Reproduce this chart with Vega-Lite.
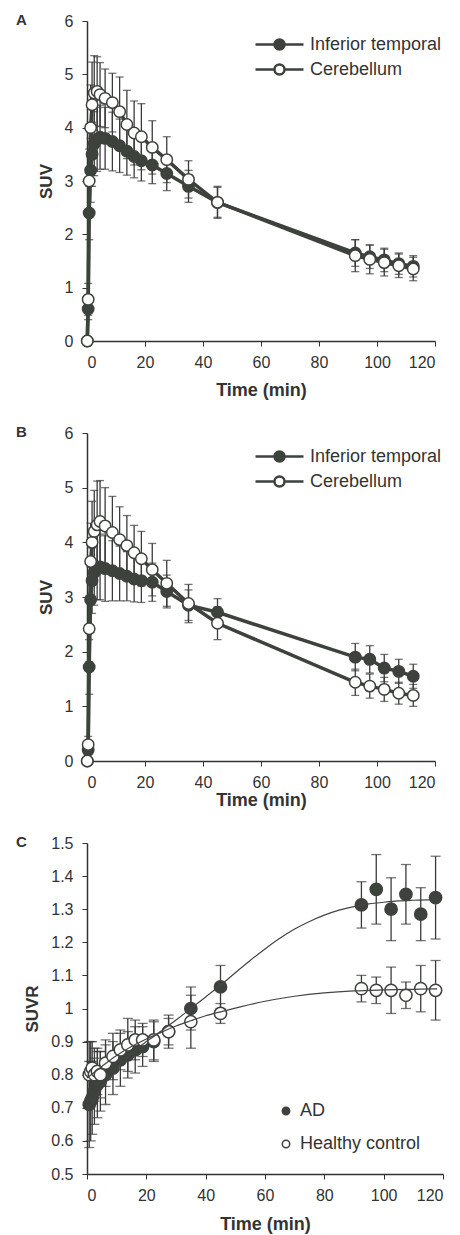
{
 "$schema": "https://vega.github.io/schema/vega-lite/v6.json",
 "padding": {"left": 16, "top": 13, "right": 10, "bottom": 4},
 "spacing": 26,
 "resolve": {"scale": {"fill": "independent"}, "legend": {"fill": "independent"}},
 "config": {
  "font": "Liberation Sans",
  "view": {"stroke": null},
  "axis": {"grid": false, "domainColor": "#333", "domainWidth": 1.5, "tickColor": "#333", "tickSize": 5, "labelFontSize": 16, "labelColor": "#333", "titleFontSize": 18, "titleFontWeight": "bold", "titleColor": "#333", "labelFont": "Liberation Sans", "titleFont": "Liberation Sans"},
  "axisX": {"labelPadding": 8},
  "axisY": {"labelPadding": 9, "titleFontSize": 17, "titlePadding": 9},
  "legend": {"labelFont": "Liberation Sans", "labelFontSize": 18, "labelColor": "#333"},
  "title": {"font": "Liberation Sans", "fontSize": 15, "fontWeight": "bold", "color": "#333"}
 },
 "datasets": {
  "a": [
   {"s":"Inferior temporal","t":0.1,"m":0,"sd":0},
   {"s":"Inferior temporal","t":0.4,"m":0.6,"sd":0.2},
   {"s":"Inferior temporal","t":0.75,"m":2.4,"sd":0.5},
   {"s":"Inferior temporal","t":1.25,"m":3.2,"sd":0.6},
   {"s":"Inferior temporal","t":1.75,"m":3.5,"sd":0.6},
   {"s":"Inferior temporal","t":2.5,"m":3.7,"sd":0.6},
   {"s":"Inferior temporal","t":3.5,"m":3.78,"sd":0.6},
   {"s":"Inferior temporal","t":4.5,"m":3.82,"sd":0.6},
   {"s":"Inferior temporal","t":6.25,"m":3.8,"sd":0.58},
   {"s":"Inferior temporal","t":8.75,"m":3.74,"sd":0.55},
   {"s":"Inferior temporal","t":11.25,"m":3.66,"sd":0.5},
   {"s":"Inferior temporal","t":13.75,"m":3.56,"sd":0.45},
   {"s":"Inferior temporal","t":16.25,"m":3.46,"sd":0.4},
   {"s":"Inferior temporal","t":18.75,"m":3.38,"sd":0.38},
   {"s":"Inferior temporal","t":22.5,"m":3.3,"sd":0.35},
   {"s":"Inferior temporal","t":27.5,"m":3.14,"sd":0.32},
   {"s":"Inferior temporal","t":35,"m":2.9,"sd":0.3},
   {"s":"Inferior temporal","t":45,"m":2.6,"sd":0.28},
   {"s":"Inferior temporal","t":92.5,"m":1.65,"sd":0.25},
   {"s":"Inferior temporal","t":97.5,"m":1.58,"sd":0.22},
   {"s":"Inferior temporal","t":102.5,"m":1.52,"sd":0.22},
   {"s":"Inferior temporal","t":107.5,"m":1.45,"sd":0.2},
   {"s":"Inferior temporal","t":112.5,"m":1.4,"sd":0.2},
   {"s":"Cerebellum","t":0.1,"m":0,"sd":0},
   {"s":"Cerebellum","t":0.4,"m":0.78,"sd":0.3},
   {"s":"Cerebellum","t":0.75,"m":3.0,"sd":0.6},
   {"s":"Cerebellum","t":1.25,"m":4.0,"sd":0.8},
   {"s":"Cerebellum","t":1.75,"m":4.43,"sd":0.8},
   {"s":"Cerebellum","t":2.5,"m":4.65,"sd":0.7},
   {"s":"Cerebellum","t":3.5,"m":4.68,"sd":0.65},
   {"s":"Cerebellum","t":4.5,"m":4.62,"sd":0.6},
   {"s":"Cerebellum","t":6.25,"m":4.55,"sd":0.55},
   {"s":"Cerebellum","t":8.75,"m":4.47,"sd":0.55},
   {"s":"Cerebellum","t":11.25,"m":4.3,"sd":0.65},
   {"s":"Cerebellum","t":13.75,"m":4.06,"sd":0.64},
   {"s":"Cerebellum","t":16.25,"m":3.9,"sd":0.6},
   {"s":"Cerebellum","t":18.75,"m":3.83,"sd":0.62},
   {"s":"Cerebellum","t":22.5,"m":3.63,"sd":0.5},
   {"s":"Cerebellum","t":27.5,"m":3.4,"sd":0.43},
   {"s":"Cerebellum","t":35,"m":3.03,"sd":0.35},
   {"s":"Cerebellum","t":45,"m":2.6,"sd":0.3},
   {"s":"Cerebellum","t":92.5,"m":1.6,"sd":0.3},
   {"s":"Cerebellum","t":97.5,"m":1.53,"sd":0.27},
   {"s":"Cerebellum","t":102.5,"m":1.47,"sd":0.25},
   {"s":"Cerebellum","t":107.5,"m":1.41,"sd":0.22},
   {"s":"Cerebellum","t":112.5,"m":1.35,"sd":0.22}
  ],
  "b": [
   {"s":"Inferior temporal","t":0.1,"m":0,"sd":0},
   {"s":"Inferior temporal","t":0.4,"m":0.2,"sd":0.15},
   {"s":"Inferior temporal","t":0.75,"m":1.72,"sd":0.5},
   {"s":"Inferior temporal","t":1.25,"m":2.95,"sd":0.6},
   {"s":"Inferior temporal","t":1.75,"m":3.3,"sd":0.6},
   {"s":"Inferior temporal","t":2.5,"m":3.45,"sd":0.6},
   {"s":"Inferior temporal","t":3.5,"m":3.55,"sd":0.6},
   {"s":"Inferior temporal","t":4.5,"m":3.55,"sd":0.6},
   {"s":"Inferior temporal","t":6.25,"m":3.52,"sd":0.6},
   {"s":"Inferior temporal","t":8.75,"m":3.48,"sd":0.55},
   {"s":"Inferior temporal","t":11.25,"m":3.43,"sd":0.5},
   {"s":"Inferior temporal","t":13.75,"m":3.38,"sd":0.45},
   {"s":"Inferior temporal","t":16.25,"m":3.33,"sd":0.42},
   {"s":"Inferior temporal","t":18.75,"m":3.3,"sd":0.4},
   {"s":"Inferior temporal","t":22.5,"m":3.27,"sd":0.35},
   {"s":"Inferior temporal","t":27.5,"m":3.1,"sd":0.3},
   {"s":"Inferior temporal","t":35,"m":2.85,"sd":0.28},
   {"s":"Inferior temporal","t":45,"m":2.72,"sd":0.25},
   {"s":"Inferior temporal","t":92.5,"m":1.9,"sd":0.25},
   {"s":"Inferior temporal","t":97.5,"m":1.86,"sd":0.25},
   {"s":"Inferior temporal","t":102.5,"m":1.7,"sd":0.25},
   {"s":"Inferior temporal","t":107.5,"m":1.64,"sd":0.22},
   {"s":"Inferior temporal","t":112.5,"m":1.55,"sd":0.22},
   {"s":"Cerebellum","t":0.1,"m":0,"sd":0},
   {"s":"Cerebellum","t":0.4,"m":0.3,"sd":0.15},
   {"s":"Cerebellum","t":0.75,"m":2.42,"sd":0.6},
   {"s":"Cerebellum","t":1.25,"m":3.65,"sd":0.7},
   {"s":"Cerebellum","t":1.75,"m":4.0,"sd":0.75},
   {"s":"Cerebellum","t":2.5,"m":4.2,"sd":0.75},
   {"s":"Cerebellum","t":3.5,"m":4.32,"sd":0.8},
   {"s":"Cerebellum","t":4.5,"m":4.38,"sd":0.75},
   {"s":"Cerebellum","t":6.25,"m":4.3,"sd":0.7},
   {"s":"Cerebellum","t":8.75,"m":4.18,"sd":0.66},
   {"s":"Cerebellum","t":11.25,"m":4.05,"sd":0.6},
   {"s":"Cerebellum","t":13.75,"m":3.94,"sd":0.55},
   {"s":"Cerebellum","t":16.25,"m":3.81,"sd":0.5},
   {"s":"Cerebellum","t":18.75,"m":3.7,"sd":0.5},
   {"s":"Cerebellum","t":22.5,"m":3.5,"sd":0.48},
   {"s":"Cerebellum","t":27.5,"m":3.25,"sd":0.42},
   {"s":"Cerebellum","t":35,"m":2.88,"sd":0.35},
   {"s":"Cerebellum","t":45,"m":2.52,"sd":0.3},
   {"s":"Cerebellum","t":92.5,"m":1.44,"sd":0.24},
   {"s":"Cerebellum","t":97.5,"m":1.37,"sd":0.22},
   {"s":"Cerebellum","t":102.5,"m":1.31,"sd":0.22},
   {"s":"Cerebellum","t":107.5,"m":1.24,"sd":0.2},
   {"s":"Cerebellum","t":112.5,"m":1.2,"sd":0.2}
  ],
  "c": [
   {"s":"AD","t":0.75,"m":0.71,"sd":0.13},
   {"s":"AD","t":1.25,"m":0.72,"sd":0.12},
   {"s":"AD","t":1.75,"m":0.73,"sd":0.11},
   {"s":"AD","t":2.5,"m":0.75,"sd":0.1},
   {"s":"AD","t":3.5,"m":0.77,"sd":0.1},
   {"s":"AD","t":4.5,"m":0.78,"sd":0.09},
   {"s":"AD","t":6.25,"m":0.8,"sd":0.09},
   {"s":"AD","t":8.75,"m":0.82,"sd":0.08},
   {"s":"AD","t":11.25,"m":0.845,"sd":0.08},
   {"s":"AD","t":13.75,"m":0.86,"sd":0.07},
   {"s":"AD","t":16.25,"m":0.875,"sd":0.07},
   {"s":"AD","t":18.75,"m":0.885,"sd":0.06},
   {"s":"AD","t":22.5,"m":0.9,"sd":0.06},
   {"s":"AD","t":27.5,"m":0.93,"sd":0.05},
   {"s":"AD","t":35,"m":1.0,"sd":0.065},
   {"s":"AD","t":45,"m":1.065,"sd":0.065},
   {"s":"AD","t":92.5,"m":1.313,"sd":0.07},
   {"s":"AD","t":97.5,"m":1.36,"sd":0.105},
   {"s":"AD","t":102.5,"m":1.3,"sd":0.095},
   {"s":"AD","t":107.5,"m":1.345,"sd":0.09},
   {"s":"AD","t":112.5,"m":1.285,"sd":0.08},
   {"s":"AD","t":117.5,"m":1.335,"sd":0.125},
   {"s":"Healthy control","t":0.75,"m":0.8,"sd":0.1},
   {"s":"Healthy control","t":1.25,"m":0.81,"sd":0.09},
   {"s":"Healthy control","t":1.75,"m":0.82,"sd":0.08},
   {"s":"Healthy control","t":2.5,"m":0.8,"sd":0.08},
   {"s":"Healthy control","t":3.5,"m":0.81,"sd":0.07},
   {"s":"Healthy control","t":4.5,"m":0.8,"sd":0.07},
   {"s":"Healthy control","t":6.25,"m":0.835,"sd":0.07},
   {"s":"Healthy control","t":8.75,"m":0.855,"sd":0.07},
   {"s":"Healthy control","t":11.25,"m":0.875,"sd":0.06},
   {"s":"Healthy control","t":13.75,"m":0.89,"sd":0.08},
   {"s":"Healthy control","t":16.25,"m":0.905,"sd":0.06},
   {"s":"Healthy control","t":18.75,"m":0.905,"sd":0.05},
   {"s":"Healthy control","t":22.5,"m":0.905,"sd":0.06},
   {"s":"Healthy control","t":27.5,"m":0.93,"sd":0.04},
   {"s":"Healthy control","t":35,"m":0.96,"sd":0.08},
   {"s":"Healthy control","t":45,"m":0.985,"sd":0.03},
   {"s":"Healthy control","t":92.5,"m":1.06,"sd":0.04},
   {"s":"Healthy control","t":97.5,"m":1.055,"sd":0.04},
   {"s":"Healthy control","t":102.5,"m":1.055,"sd":0.07},
   {"s":"Healthy control","t":107.5,"m":1.04,"sd":0.04},
   {"s":"Healthy control","t":112.5,"m":1.06,"sd":0.07},
   {"s":"Healthy control","t":117.5,"m":1.055,"sd":0.09}
  ],
  "cfit": [
   {"g":"AD","t":0,"m":0.69},{"g":"AD","t":5,"m":0.76},{"g":"AD","t":10,"m":0.82},{"g":"AD","t":15,"m":0.865},
   {"g":"AD","t":20,"m":0.9},{"g":"AD","t":25,"m":0.932},{"g":"AD","t":30,"m":0.965},{"g":"AD","t":35,"m":1.0},
   {"g":"AD","t":40,"m":1.035},{"g":"AD","t":45,"m":1.07},{"g":"AD","t":50,"m":1.108},{"g":"AD","t":55,"m":1.145},
   {"g":"AD","t":60,"m":1.18},{"g":"AD","t":65,"m":1.212},{"g":"AD","t":70,"m":1.24},{"g":"AD","t":75,"m":1.263},
   {"g":"AD","t":80,"m":1.282},{"g":"AD","t":85,"m":1.297},{"g":"AD","t":90,"m":1.308},{"g":"AD","t":95,"m":1.316},
   {"g":"AD","t":100,"m":1.321},{"g":"AD","t":105,"m":1.325},{"g":"AD","t":110,"m":1.327},{"g":"AD","t":118,"m":1.329},
   {"g":"HC","t":0,"m":0.79},{"g":"HC","t":5,"m":0.825},{"g":"HC","t":10,"m":0.858},{"g":"HC","t":15,"m":0.885},
   {"g":"HC","t":20,"m":0.908},{"g":"HC","t":25,"m":0.928},{"g":"HC","t":30,"m":0.947},{"g":"HC","t":35,"m":0.963},
   {"g":"HC","t":40,"m":0.978},{"g":"HC","t":45,"m":0.99},{"g":"HC","t":50,"m":1.001},{"g":"HC","t":55,"m":1.012},
   {"g":"HC","t":60,"m":1.022},{"g":"HC","t":70,"m":1.037},{"g":"HC","t":80,"m":1.047},{"g":"HC","t":90,"m":1.053},
   {"g":"HC","t":100,"m":1.056},{"g":"HC","t":110,"m":1.058},{"g":"HC","t":118,"m":1.059}
  ]
 },
 "vconcat": [
  {
   "width": 348, "height": 320,
   "data": {"name": "a"},
   "title": {"text": "A", "anchor": "start", "frame": "group", "orient": "top", "dx": -71, "offset": -15, "align": "left"},
   "encoding": {
    "x": {"field": "t", "type": "quantitative", "scale": {"domain": [0, 120], "nice": false}, "axis": {"values": [0, 20, 40, 60, 80, 100, 120], "title": "Time (min)", "titlePadding": 11}},
    "y": {"field": "m", "type": "quantitative", "scale": {"domain": [0, 6], "nice": false}, "axis": {"values": [0, 1, 2, 3, 4, 5, 6], "title": "SUV"}}
   },
   "layer": [
    {"mark": {"type": "errorbar", "ticks": {"size": 8}, "color": "#3a3a3a", "thickness": 1.3}, "encoding": {"yError": {"field": "sd"}}},
    {"mark": {"type": "line", "color": "#3d423d", "strokeWidth": 3.5}, "encoding": {"detail": {"field": "s", "type": "nominal"}}},
    {"mark": {"type": "point", "filled": true, "size": 130, "stroke": "#3d423d", "strokeWidth": 1.5, "opacity": 1},
     "encoding": {"fill": {"field": "s", "type": "nominal", "scale": {"domain": ["Inferior temporal", "Cerebellum"], "range": ["#3d423d", "#ffffff"]},
      "legend": {"title": null, "orient": "none", "legendX": 181, "legendY": 12, "symbolType": "M-2.4,0L-0.5,0M0.5,0L2.4,0M-0.5,0A0.5,0.5,0,1,1,0.5,0A0.5,0.5,0,1,1,-0.5,0Z", "symbolSize": 400, "symbolStrokeColor": "#3d423d", "symbolStrokeWidth": 2.5, "labelOffset": 19, "rowPadding": 3}}}}
   ]
  },
  {
   "width": 348, "height": 328,
   "data": {"name": "b"},
   "title": {"text": "B", "anchor": "start", "frame": "group", "orient": "top", "dx": -71, "offset": -15, "align": "left"},
   "encoding": {
    "x": {"field": "t", "type": "quantitative", "scale": {"domain": [0, 120], "nice": false}, "axis": {"values": [0, 20, 40, 60, 80, 100, 120], "title": "Time (min)", "titlePadding": 1}},
    "y": {"field": "m", "type": "quantitative", "scale": {"domain": [0, 6], "nice": false}, "axis": {"values": [0, 1, 2, 3, 4, 5, 6], "title": "SUV"}}
   },
   "layer": [
    {"mark": {"type": "errorbar", "ticks": {"size": 8}, "color": "#3a3a3a", "thickness": 1.3}, "encoding": {"yError": {"field": "sd"}}},
    {"mark": {"type": "line", "color": "#3d423d", "strokeWidth": 3.5}, "encoding": {"detail": {"field": "s", "type": "nominal"}}},
    {"mark": {"type": "point", "filled": true, "size": 130, "stroke": "#3d423d", "strokeWidth": 1.5, "opacity": 1},
     "encoding": {"fill": {"field": "s", "type": "nominal", "scale": {"domain": ["Inferior temporal", "Cerebellum"], "range": ["#3d423d", "#ffffff"]},
      "legend": {"title": null, "orient": "none", "legendX": 181, "legendY": 12, "symbolType": "M-2.4,0L-0.5,0M0.5,0L2.4,0M-0.5,0A0.5,0.5,0,1,1,0.5,0A0.5,0.5,0,1,1,-0.5,0Z", "symbolSize": 400, "symbolStrokeColor": "#3d423d", "symbolStrokeWidth": 2.5, "labelOffset": 19, "rowPadding": 3}}}}
   ]
  },
  {
   "width": 356, "height": 331,
   "title": {"text": "C", "anchor": "start", "frame": "group", "orient": "top", "dx": -71, "offset": -15, "align": "left"},
   "encoding": {
    "x": {"field": "t", "type": "quantitative", "scale": {"domain": [0, 120], "nice": false}, "axis": {"values": [0, 20, 40, 60, 80, 100, 120], "title": "Time (min)", "titlePadding": 12}},
    "y": {"field": "m", "type": "quantitative", "scale": {"domain": [0.5, 1.5], "nice": false}, "axis": {"values": [0.5, 0.6, 0.7, 0.8, 0.9, 1, 1.1, 1.2, 1.3, 1.4, 1.5], "format": "~g", "title": "SUVR"}}
   },
   "layer": [
    {"data": {"name": "c"}, "mark": {"type": "errorbar", "ticks": {"size": 10}, "color": "#3a3a3a", "thickness": 1.3}, "encoding": {"yError": {"field": "sd"}}},
    {"data": {"name": "c"}, "mark": {"type": "point", "filled": true, "size": 150, "stroke": "#3d423d", "strokeWidth": 1.5, "opacity": 1},
     "encoding": {"fill": {"field": "s", "type": "nominal", "scale": {"domain": ["AD", "Healthy control"], "range": ["#3d423d", "#ffffff"]},
      "legend": {"title": null, "orient": "none", "legendX": 190, "legendY": 259, "symbolType": "circle", "symbolSize": 55, "symbolStrokeColor": "#3d423d", "symbolStrokeWidth": 1.5, "labelOffset": 5, "rowPadding": 15}}}},
    {"data": {"name": "cfit"}, "mark": {"type": "line", "color": "#444", "strokeWidth": 1.2, "interpolate": "monotone"}, "encoding": {"detail": {"field": "g", "type": "nominal"}}}
   ]
  }
 ]
}
